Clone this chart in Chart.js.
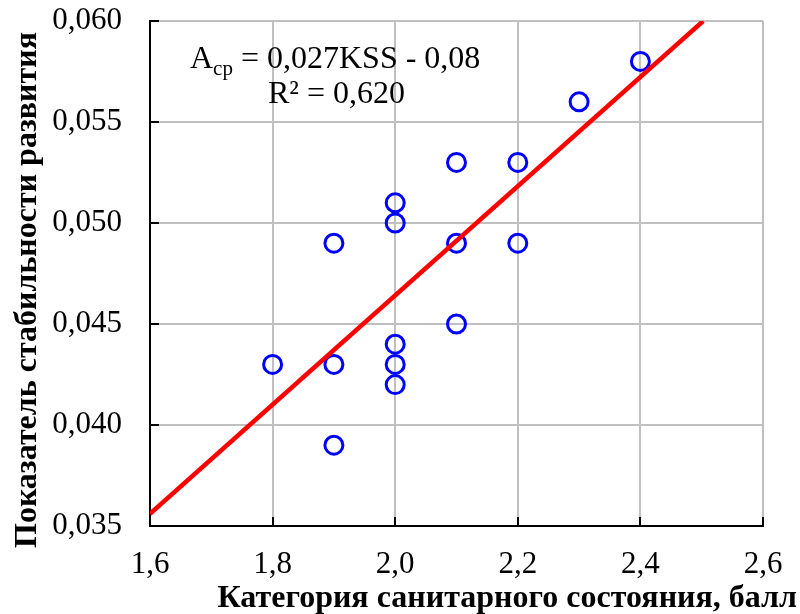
<!DOCTYPE html>
<html>
<head>
<meta charset="utf-8">
<script src="https://cdn.jsdelivr.net/npm/chart.js@4/dist/chart.umd.min.js"></script>
<style>
  html, body { margin: 0; padding: 0; background: #ffffff; }
  #wrap { width: 800px; height: 614px; }
</style>
</head>
<body>
<div id="wrap"><canvas id="chart" width="800" height="614"></canvas></div>
<script>
// Sanitary condition category (score) vs. developmental stability index
const sanitaryCategory = [1.8, 1.9, 1.9, 1.9, 2.0, 2.0, 2.0, 2.0, 2.0, 2.1, 2.1, 2.1, 2.2, 2.2, 2.3, 2.4];
const stabilityIndex   = [0.043, 0.049, 0.043, 0.039, 0.051, 0.050, 0.044, 0.043, 0.042, 0.053, 0.049, 0.045, 0.053, 0.049, 0.056, 0.058];

const xTicks = [1.6, 1.8, 2.0, 2.2, 2.4, 2.6];
const yTicks = [0.035, 0.040, 0.045, 0.050, 0.055, 0.060];

const xTitle = 'Категория санитарного состояния, балл';
const yTitle = 'Показатель стабильности развития';
const eqMain = 'A';
const eqSub = 'cp';
const eqRest = ' = 0,027KSS - 0,08';
const r2Text = 'R² = 0,620';

const SERIF = '"Liberation Serif", "Times New Roman", serif';

// least-squares trend line through the points
const n = sanitaryCategory.length;
const mx = sanitaryCategory.reduce((a, b) => a + b, 0) / n;
const my = stabilityIndex.reduce((a, b) => a + b, 0) / n;
let sxy = 0, sxx = 0;
for (let i = 0; i < n; i++) {
  sxy += (sanitaryCategory[i] - mx) * (stabilityIndex[i] - my);
  sxx += (sanitaryCategory[i] - mx) ** 2;
}
const slope = sxy / sxx;
const intercept = my - slope * mx;
const xMin = xTicks[0], yMax = yTicks[yTicks.length - 1];
const trendStart = { x: xMin, y: slope * xMin + intercept };
const trendEnd = { x: (yMax - intercept) / slope, y: yMax };

const points = sanitaryCategory.map((x, i) => ({ x, y: stabilityIndex[i] }));

// inward black tick marks on the two axes
const innerTicks = {
  id: 'innerTicks',
  beforeDatasetsDraw(chart) {
    const { ctx, chartArea: a, scales: { x, y } } = chart;
    ctx.save();
    ctx.strokeStyle = '#000';
    ctx.lineWidth = 2;
    ctx.beginPath();
    xTicks.forEach(v => {
      const px = Math.round(x.getPixelForValue(v));
      ctx.moveTo(px, a.bottom);
      ctx.lineTo(px, a.bottom - 9);
    });
    yTicks.forEach(v => {
      const py = Math.round(y.getPixelForValue(v));
      ctx.moveTo(a.left, py);
      ctx.lineTo(a.left + 9, py);
    });
    ctx.stroke();
    ctx.restore();
  }
};

// axis titles and regression equation
const labels = {
  id: 'labels',
  afterDraw(chart) {
    const { ctx } = chart;
    ctx.save();
    ctx.fillStyle = '#000';

    ctx.font = '32px ' + SERIF;
    ctx.textBaseline = 'alphabetic';
    ctx.textAlign = 'left';
    let cx = 190;
    ctx.fillText(eqMain, cx, 68);
    cx += ctx.measureText(eqMain).width;
    ctx.font = '21px ' + SERIF;
    ctx.fillText(eqSub, cx, 75);
    cx += ctx.measureText(eqSub).width;
    ctx.font = '32px ' + SERIF;
    ctx.fillText(eqRest, cx, 68);
    ctx.fillText(r2Text, 268, 103);

    ctx.font = 'bold 32px ' + SERIF;
    ctx.textAlign = 'right';
    ctx.fillText(xTitle, 797, 607);

    ctx.translate(36, 290);
    ctx.rotate(-Math.PI / 2);
    ctx.textAlign = 'center';
    ctx.fillText(yTitle, 0, 0);
    ctx.restore();
  }
};

new Chart(document.getElementById('chart'), {
  type: 'scatter',
  data: {
    datasets: [
      {
        type: 'line',
        data: [trendStart, trendEnd],
        borderColor: '#ff0000',
        borderWidth: 4.5,
        pointRadius: 0,
        fill: false,
        order: 0
      },
      {
        data: points,
        pointStyle: 'circle',
        pointRadius: 9,
        pointHoverRadius: 9,
        pointBorderWidth: 3,
        borderColor: '#0000ff',
        backgroundColor: 'rgba(0,0,0,0)',
        order: 1
      }
    ]
  },
  options: {
    responsive: false,
    devicePixelRatio: 1,
    animation: false,
    layout: { padding: { top: 21, right: 37, left: 0, bottom: 0 } },
    plugins: { legend: { display: false }, tooltip: { enabled: false } },
    scales: {
      x: {
        type: 'linear',
        min: xTicks[0],
        max: xTicks[xTicks.length - 1],
        afterBuildTicks: s => { s.ticks = xTicks.map(v => ({ value: v })); },
        afterFit: s => { s.height = 88; s.paddingLeft = 0; s.paddingRight = 0; },
        ticks: {
          color: '#000',
          font: { family: SERIF, size: 31 },
          padding: 20,
          maxRotation: 0,
          autoSkip: false,
          callback: v => v.toFixed(1).replace('.', ',')
        },
        grid: { color: '#c0c0c0', lineWidth: 2, drawTicks: false },
        border: { display: true, color: '#000', width: 2 }
      },
      y: {
        type: 'linear',
        min: yTicks[0],
        max: yTicks[yTicks.length - 1],
        afterBuildTicks: s => { s.ticks = yTicks.map(v => ({ value: v })); },
        afterFit: s => { s.width = 150; s.paddingTop = 0; s.paddingBottom = 0; },
        ticks: {
          color: '#000',
          font: { family: SERIF, size: 31 },
          padding: 28,
          autoSkip: false,
          callback: v => v.toFixed(3).replace('.', ',')
        },
        grid: { color: '#c0c0c0', lineWidth: 2, drawTicks: false },
        border: { display: true, color: '#000', width: 2 }
      }
    }
  },
  plugins: [innerTicks, labels]
});
</script>
</body>
</html>
